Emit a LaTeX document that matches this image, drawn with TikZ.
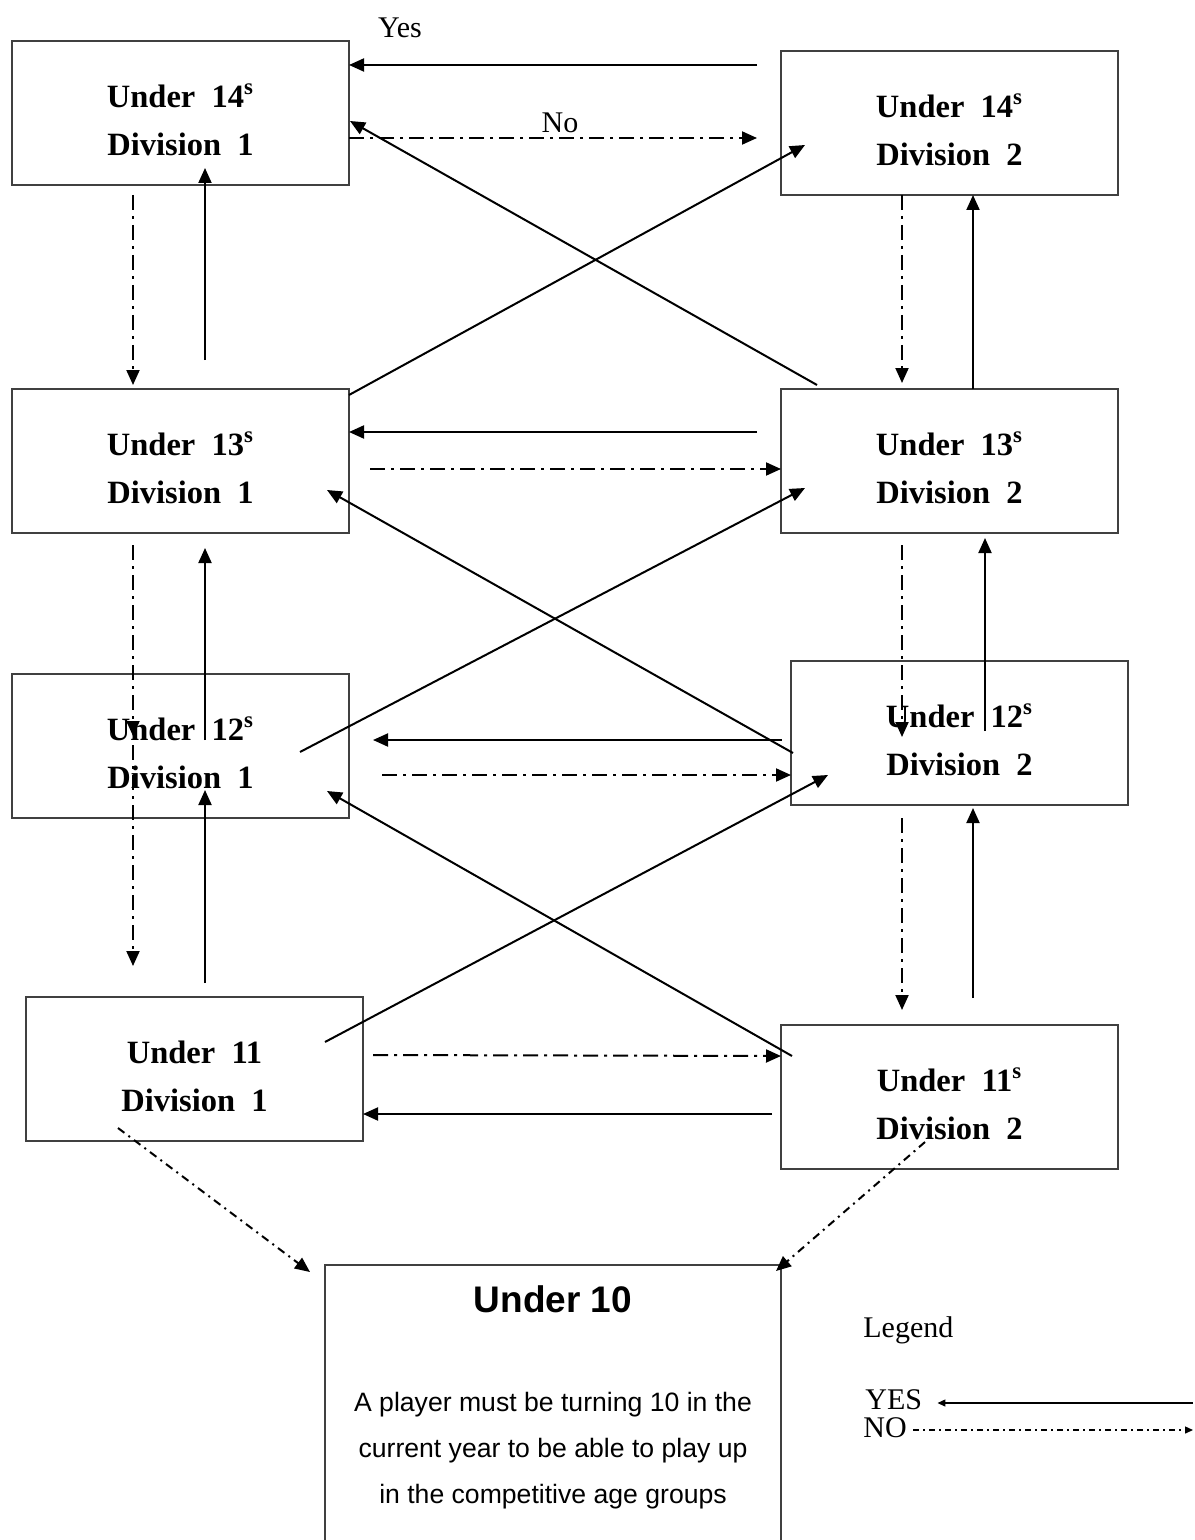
\documentclass[tikz,border=0pt]{standalone}
\usepackage{fontspec}
\setmainfont{Liberation Serif}
\newfontfamily\arialfont{Liberation Sans}
\usetikzlibrary{arrows.meta, calc}

\begin{document}
\begin{tikzpicture}[
    x=0.5pt, y=-0.5pt,
    division/.style={rectangle, draw=black!75, line width=0.6pt, minimum width=168.5pt, minimum height=72pt, inner sep=0pt, outer sep=0pt, anchor=north west},
    divtext/.style={font=\bfseries\fontsize{16.25}{24}\selectfont, align=center},
    yesline/.style={line width=1pt, -{Triangle[length=7.5pt, width=6.5pt]}},
    noline/.style={yesline, dash pattern=on 7.5pt off 3pt on 1.5pt off 3pt},
    nodiag/.style={yesline, dash pattern=on 4pt off 2.5pt on 1pt off 2.5pt},
    plain/.style={font=\fontsize{15}{18}\selectfont, inner sep=0pt}
]
    \useasboundingbox (0,0) rectangle (1194,1540);
    \clip (0,0) rectangle (1194,1540);

    % Division boxes
    \node[division] (u14a) at (12,41) {};
    \node[division] (u14b) at (781,51) {};
    \node[division] (u13a) at (12,389) {};
    \node[division] (u13b) at (781,389) {};
    \node[division] (u12a) at (12,674) {};
    \node[division] (u12b) at (791,661) {};
    \node[division] (u11a) at (26,997) {};
    \node[division] (u11b) at (781,1025) {};

    \node[divtext] (t14a) at ($(u14a.center)+(0,7)$) {Under\ \ 14\textsuperscript{s}\\Division\ \ 1};
    \node[divtext] (t14b) at ($(u14b.center)+(0,7)$) {Under\ \ 14\textsuperscript{s}\\Division\ \ 2};
    \node[divtext] (t13a) at ($(u13a.center)+(0,7)$) {Under\ \ 13\textsuperscript{s}\\Division\ \ 1};
    \node[divtext] (t13b) at ($(u13b.center)+(0,7)$) {Under\ \ 13\textsuperscript{s}\\Division\ \ 2};
    \node[divtext] (t12a) at ($(u12a.center)+(0,7)$) {Under\ \ 12\textsuperscript{s}\\Division\ \ 1};
    \node[divtext] (t12b) at ($(u12b.center)+(0,7)$) {Under\ \ 12\textsuperscript{s}\\Division\ \ 2};
    \node[divtext] (t11a) at ($(u11a.center)+(0,7)$) {Under\ \ 11\\Division\ \ 1};
    \node[divtext] (t11b) at ($(u11b.center)+(0,7)$) {Under\ \ 11\textsuperscript{s}\\Division\ \ 2};

    % Under 10
    \node[division, minimum width=228pt, minimum height=150pt] (u10) at (325,1265) {};
    \node[font=\arialfont\bfseries\fontsize{18.5}{22}\selectfont] (t10) at ($(u10.north west)+(228,34)$) {Under 10};
    \node[font=\arialfont\fontsize{13.3}{23}\selectfont, align=center] (rule10) at ($(u10.north west)+(228,186)$) {A player must be turning 10 in the\\current year to be able to play up\\in the competitive age groups};

    % Under 14 row
    \draw[yesline] ($(u14b.north west)+(-24,14)$) -- node[plain, pos=0.875, anchor=base, yshift=13.5pt] (yeslbl) {Yes} ($(u14a.north east)+(0,24)$);
    \draw[noline] ($(u14a.north east)+(0,97)$) -- node[plain, pos=0.517, anchor=base, yshift=2.5pt] (nolbl) {No} ($(u14b.north west)+(-24,87)$);
    \draw[yesline] ($(u13b.north west)+(36,-4)$) -- ($(u14a.north east)+(1,80)$);
    \draw[yesline] ($(u13a.north east)+(0,6)$) -- ($(u14b.north west)+(24,94)$);
    \draw[noline] ($(u14a.south west)+(121,10)$) -- ($(u13a.north west)+(121,-4)$);
    \draw[yesline] ($(u13a.north west)+(193,-29)$) -- ($(u14a.south west)+(193,-17)$);
    \draw[noline] ($(u14b.south west)+(121,0)$) -- ($(u13b.north west)+(121,-6)$);
    \draw[yesline] ($(u13b.north west)+(192,0)$) -- ($(u14b.south west)+(192,0)$);

    % Under 13 row
    \draw[yesline] ($(u13b.north west)+(-24,43)$) -- ($(u13a.north east)+(0,43)$);
    \draw[noline] ($(u13a.north east)+(21,80)$) -- ($(u13b.north west)+(0,80)$);
    \draw[yesline] ($(u12a.north west)+(288,78)$) -- ($(u13b.north west)+(24,99)$);
    \draw[yesline] ($(u12b.north west)+(2,92)$) -- ($(u13a.north east)+(-22,101)$);
    \draw[noline] ($(u13a.south west)+(121,12)$) -- ($(u12a.north west)+(121,62)$);
    \draw[yesline] ($(u12a.north west)+(193,66)$) -- ($(u13a.south west)+(193,15)$);
    \draw[noline] ($(u13b.south west)+(121,12)$) -- ($(u12b.north west)+(111,76)$);
    \draw[yesline] ($(u12b.north west)+(194,70)$) -- ($(u13b.south west)+(204,5)$);

    % Under 12 row
    \draw[yesline] ($(u12b.north west)+(-9,79)$) -- ($(u12a.north east)+(24,66)$);
    \draw[noline] ($(u12a.north east)+(33,101)$) -- ($(u12b.north west)+(0,114)$);
    \draw[yesline] ($(u11a.north west)+(299,45)$) -- ($(u12b.north west)+(37,114)$);
    \draw[yesline] ($(u11b.north west)+(11,31)$) -- ($(u12a.north east)+(-22,117)$);
    \draw[noline] ($(u12a.north west)+(121,71)$) -- ($(u11a.north west)+(107,-31)$);
    \draw[yesline] ($(u11a.north west)+(179,-14)$) -- ($(u12a.north west)+(193,116)$);
    \draw[noline] ($(u12b.south west)+(111,13)$) -- ($(u11b.north west)+(121,-15)$);
    \draw[yesline] ($(u11b.north west)+(192,-27)$) -- ($(u12b.south west)+(182,3)$);

    % Under 11 row
    \draw[noline] ($(u11a.north east)+(10,58)$) -- ($(u11b.north west)+(0,31)$);
    \draw[yesline] ($(u11b.north west)+(-9,89)$) -- ($(u11a.north east)+(0,117)$);
    \draw[nodiag] ($(u11a.north west)+(92,131)$) -- ($(u10.north west)+(-15,7)$);
    \draw[nodiag] ($(u11b.north west)+(144,117)$) -- ($(u10.north east)+(-5,6)$);

    % Legend
    \node[plain, anchor=base west] (legend) at (863,1337) {Legend};
    \node[plain, anchor=base west] (legyes) at (865,1409) {YES};
    \node[plain, anchor=base west] (legno) at (863,1437) {NO};
    \coordinate (yesend) at (1193,1403);
    \coordinate (noend) at (1193,1430);
    \draw[line width=0.7pt, -{Triangle[length=4pt, width=3.5pt]}] (yesend) -- ($(legyes.base east |- yesend)+(15,0)$);
    \draw[line width=0.7pt, dash pattern=on 3pt off 2pt on 1pt off 2pt, -{Triangle[length=4pt, width=3.5pt]}] ($(legno.base east |- noend)+(6,0)$) -- (noend);
\end{tikzpicture}
\end{document}
